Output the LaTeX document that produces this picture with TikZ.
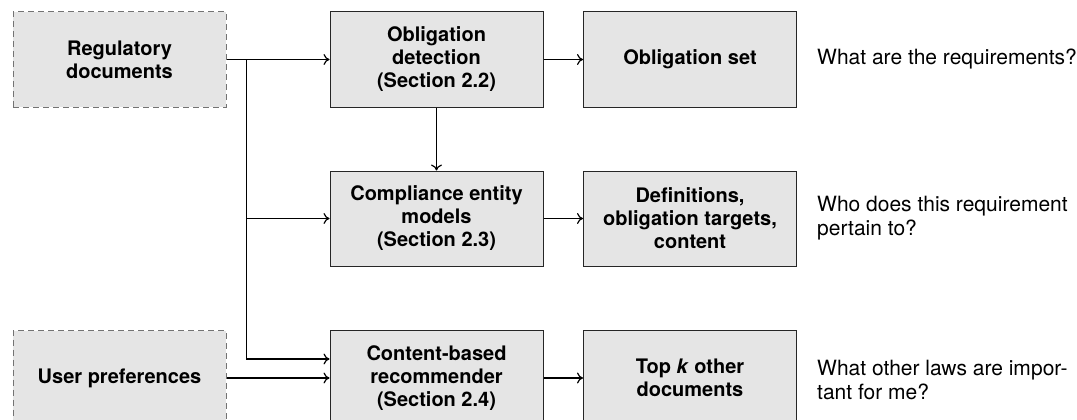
\documentclass[tikz,border=0pt]{standalone}
\usepackage{fontspec}
\setmainfont{TeX Gyre Heros}
\usetikzlibrary{calc,arrows.meta}
\tikzset{
  box/.style={draw=black!85, fill=gray!20, line width=1pt, minimum width=213pt, minimum height=95pt, align=center, inner sep=2pt, font=\fontsize{20}{23}\selectfont\bfseries},
  srcbox/.style={box, draw=black!55, dash pattern=on 6pt off 4pt},
  question/.style={font=\fontsize{21}{24}\selectfont, anchor=west, align=left, inner sep=0pt},
  conn/.style={line width=1.2pt, black},
  arr/.style={conn, -{To[length=6pt,width=11pt]}}
}
\begin{document}
\begin{tikzpicture}[x=1pt,y=-1pt]
\useasboundingbox (0,0) rectangle (1077,420);
\clip (0,0) rectangle (1077,420);
\node[srcbox] (reg) at (119.5,59.5) {Regulatory\\documents};
\node[srcbox] (user) at (119.5,378) {User preferences};
\node[box] (od) at (436.5,59.5) {Obligation\\detection\\(Section 2.2)};
\node[box] (os) at (690,59.5) {Obligation set};
\node[box] (cem) at (436.5,218.5) {Compliance entity\\models\\(Section 2.3)};
\node[box] (def) at (690,218.5) {Definitions,\\obligation targets,\\content};
\node[box] (cbr) at (436.5,378) {Content-based\\recommender\\(Section 2.4)};
\node[box] (topk) at (690,378) {Top \textit{k} other\\documents};
\node[question] (q1) at (817,59.5) {What are the requirements?};
\node[question] (q2) at (817,218.5) {Who does this requirement\\pertain to?};
\node[question] (q3) at (817,380) {What other laws are impor-\\tant for me?};
\coordinate (j1) at ($(reg.east)+(20,0)$);
\coordinate (cin) at ([yshift=19pt]cbr.west);
\draw[arr] (reg.east) -- (od.west);
\draw[arr] (j1) |- (cem.west);
\draw[arr] (j1) |- (cin);
\draw[arr] (user.east) -- (cbr.west);
\draw[arr] (od.south) -- (cem.north);
\draw[arr] (od.east) -- (os.west);
\draw[arr] (cem.east) -- (def.west);
\draw[arr] (cbr.east) -- (topk.west);
\end{tikzpicture}
\end{document}
